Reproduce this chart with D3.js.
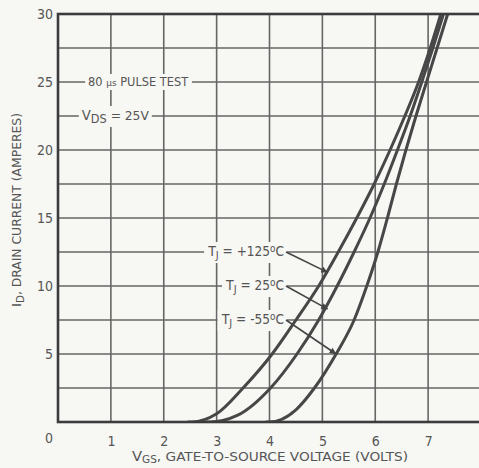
<!DOCTYPE html>
<html>
<head>
<meta charset="utf-8">
<script src="https://cdn.jsdelivr.net/npm/d3@7"></script>
<style>
  body { margin: 0; background: #f7f7f4; }
  svg { display: block; }
  text { font-family: 'Liberation Sans Narrow', 'DejaVu Sans Condensed', sans-serif; fill: #555; }
</style>
</head>
<body>
<script>
// gate voltage (V) vs drain current (A)
const curvePos125 = [[2.45,0],[2.53,0],[3.0,0.6],[3.5,2.5],[4.05,5],[4.5,7.5],[4.93,10],[5.3,12.5],[5.65,15],[5.98,17.5],[6.28,20],[6.56,22.5],[6.82,25],[7.04,27.5],[7.24,30]]
const curve25 = [[2.8,0],[2.87,0],[3.4,0.5],[4.02,2.5],[4.52,5],[4.93,7.5],[5.28,10],[5.6,12.5],[5.9,15],[6.17,17.5],[6.42,20],[6.66,22.5],[6.88,25],[7.09,27.5],[7.29,30]]
const curveNeg55 = [[3.93,0],[4.0,0],[4.5,0.9],[4.85,2.5],[5.26,5],[5.6,7.5],[5.84,10],[6.05,12.5],[6.23,15],[6.4,17.5],[6.58,20],[6.77,22.5],[6.97,25],[7.17,27.5],[7.37,30]]

const xTicks = [1, 2, 3, 4, 5, 6, 7]
const yTicks = [5, 10, 15, 20, 25, 30]
const xGrid = [1, 2, 3, 4, 5, 6, 7]
const yGrid = [2.5, 5, 7.5, 10, 12.5, 15, 17.5, 20, 22.5, 25, 27.5]

// temperature labels: which grid level they sit on, and where the leader hits the curve
const tempNames = ['+125', '25', '-55']
const tempLabelLevel = [12.5, 10, 7.5]
const tempTargets = [[5.1, 11.0], [5.1, 8.3], [5.26, 5.0]]

const W = 479, H = 468
const svg = d3.select('body').append('svg')
    .attr('width', W)
    .attr('height', H)

const x = d3.scaleLinear().domain([0, 8]).range([58, 481])
const y = d3.scaleLinear().domain([0, 30]).range([422, 14])

const gridColor = '#666'

// grid
svg.append('g')
    .selectAll('line.v')
    .data(xGrid)
    .enter()
    .append('line')
    .attr('x1', d => x(d)).attr('x2', d => x(d))
    .attr('y1', y(0)).attr('y2', y(30))
    .style('stroke', gridColor)
    .style('stroke-width', 1.6)

svg.append('g')
    .selectAll('line.h')
    .data(yGrid)
    .enter()
    .append('line')
    .attr('x1', x(0)).attr('x2', x(8))
    .attr('y1', d => y(d)).attr('y2', d => y(d))
    .style('stroke', gridColor)
    .style('stroke-width', 1.6)

// tick labels through d3 axes, domain and tick lines hidden
const xAxis = svg.append('g')
    .attr('transform', `translate(0,${y(0)})`)
    .call(d3.axisBottom(x).tickValues(xTicks).tickSize(0).tickPadding(14))
const yAxis = svg.append('g')
    .attr('transform', `translate(${x(0)},0)`)
    .call(d3.axisLeft(y).tickValues(yTicks).tickSize(0).tickPadding(5))
;[xAxis, yAxis].forEach(a => {
    a.select('.domain').remove()
    a.selectAll('text')
        .style('font-family', "'Liberation Sans Narrow', 'DejaVu Sans Condensed', sans-serif")
        .style('font-size', '14px')
        .style('fill', '#555')
})
svg.append('text')
    .attr('x', x(0) - 5).attr('y', y(0) + 21)
    .attr('text-anchor', 'end')
    .style('font-size', '14px')
    .text('0')

// label with white box behind it, hides grid lines
function boxedLabel(xp, yp, anchor, build, width, size) {
    const g = svg.append('g')
    const rect = g.append('rect').style('fill', '#f7f7f4')
    const t = g.append('text')
        .attr('x', xp).attr('y', yp + 4)
        .attr('text-anchor', anchor)
        .style('font-size', size || '11.5px')
    build(t)
    if (width) t.attr('textLength', width).attr('lengthAdjust', 'spacingAndGlyphs')
    const bb = t.node().getBBox()
    rect.attr('x', bb.x - 3).attr('y', bb.y - 1).attr('width', bb.width + 6).attr('height', bb.height + 2)
}

boxedLabel(x(0.57), y(25), 'start', t => {
    t.append('tspan').text('80 ')
    t.append('tspan').text('\u03bcs').style('font-size', '9px')
    t.append('tspan').text(' PULSE TEST')
}, 100)

boxedLabel(x(0.45), y(22.5), 'start', t => {
    t.append('tspan').text('V').style('font-size', '14px')
    t.append('tspan').text('DS').attr('dy', 3)
    t.append('tspan').text(' = 25V').attr('dy', -3).style('font-size', '13px')
}, 67, '12px')

// curves
const line = d3.line()
    .x(d => x(d[0]))
    .y(d => y(d[1]))
    .curve(d3.curveMonotoneX)

svg.append('clipPath').attr('id', 'plotclip')
    .append('rect')
    .attr('x', x(0)).attr('y', y(30))
    .attr('width', x(8) - x(0)).attr('height', y(0) - y(30))

svg.append('g')
    .attr('clip-path', 'url(#plotclip)')
    .selectAll('path')
    .data([curvePos125, curve25, curveNeg55])
    .enter()
    .append('path')
    .attr('d', line)
    .style('fill', 'none')
    .style('stroke', '#474747')
    .style('stroke-width', 3)

// small arrow tips on the leaders
svg.append('defs').append('marker')
    .attr('id', 'tip')
    .attr('viewBox', '0 -5 10 10')
    .attr('refX', 10).attr('refY', 0)
    .attr('markerWidth', 6).attr('markerHeight', 4)
    .attr('orient', 'auto')
    .append('path')
    .attr('d', 'M0,-5L10,0L0,5')
    .style('fill', '#444')

// temperature labels + leaders
tempNames.forEach((name, i) => {
    const lx = 284, ly = y(tempLabelLevel[i])
    boxedLabel(lx, ly, 'end', t => {
        t.append('tspan').text('T').style('font-size', '14px')
        t.append('tspan').text('J').attr('dy', 3).style('font-size', '11px')
        t.append('tspan').text(' = ' + name).attr('dy', -3)
        t.append('tspan').text('o').attr('dy', -4).style('font-size', '10px')
        t.append('tspan').text('C').attr('dy', 4)
    }, null, '13.5px')
    svg.append('line')
        .attr('x1', lx + 2).attr('y1', ly)
        .attr('x2', x(tempTargets[i][0])).attr('y2', y(tempTargets[i][1]))
        .attr('marker-end', 'url(#tip)')
        .style('stroke', '#444')
        .style('stroke-width', 1.6)
})

// frame
svg.append('rect')
    .attr('x', x(0)).attr('y', y(30))
    .attr('width', x(8) - x(0)).attr('height', y(0) - y(30))
    .style('fill', 'none')
    .style('stroke', '#3c3c3c')
    .style('stroke-width', 2.6)

// axis titles
const xt = svg.append('text')
    .attr('x', 270).attr('y', 461)
    .attr('text-anchor', 'middle')
    .style('font-size', '13px')
xt.append('tspan').text('V').style('font-size', '14px')
xt.append('tspan').text('GS').attr('dy', 2).style('font-size', '10px')
xt.append('tspan').text(', GATE-TO-SOURCE VOLTAGE (VOLTS)').attr('dy', -2)
xt.attr('textLength', 276).attr('lengthAdjust', 'spacingAndGlyphs')

const yt = svg.append('text')
    .attr('transform', 'translate(21,210) rotate(-90)')
    .attr('text-anchor', 'middle')
    .style('font-size', '12px')
yt.append('tspan').text('I').style('font-size', '13px')
yt.append('tspan').text('D').attr('dy', 3).style('font-size', '10px')
yt.append('tspan').text(', DRAIN CURRENT (AMPERES)').attr('dy', -3)
yt.attr('textLength', 194).attr('lengthAdjust', 'spacingAndGlyphs')
</script>
</body>
</html>
